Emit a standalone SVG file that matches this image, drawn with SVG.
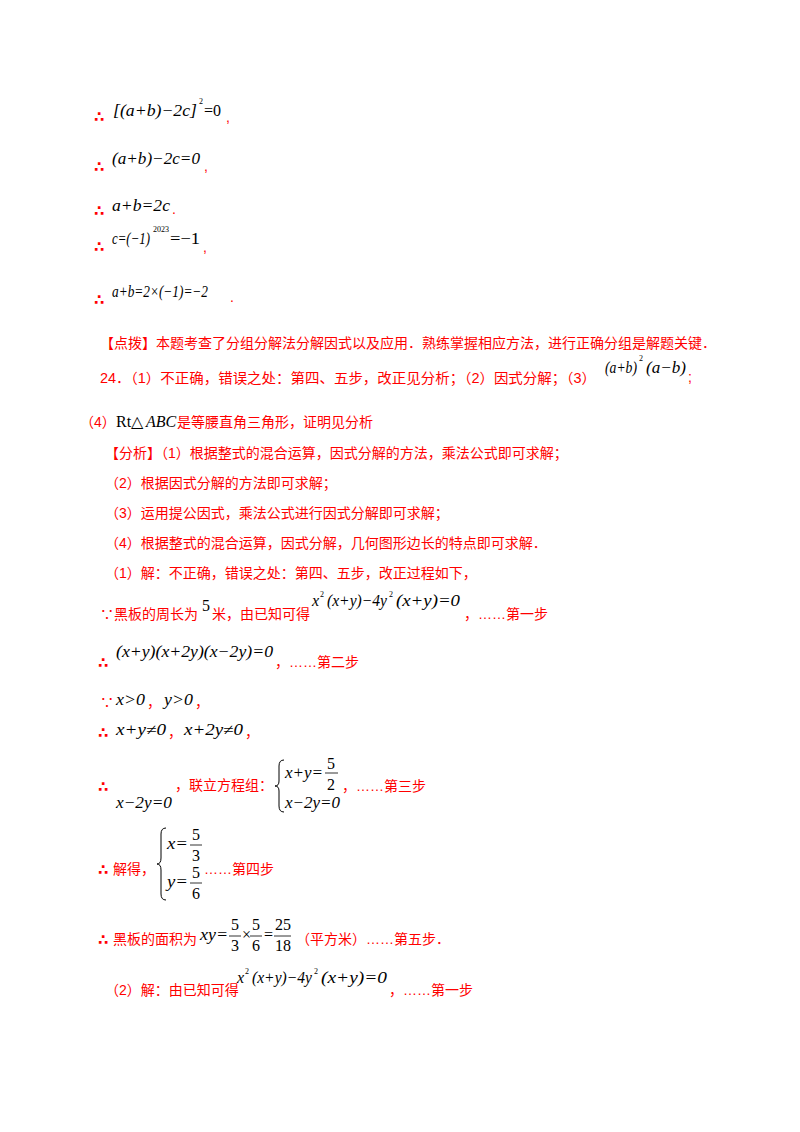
<svg xmlns="http://www.w3.org/2000/svg" width="800" height="1132" viewBox="0 0 800 1132">
<style>
.r{fill:#ff0000;font-family:"Liberation Sans","Noto Sans CJK SC",sans-serif;font-size:14px}
.t{fill:#ff0000;font-family:"DejaVu Sans",sans-serif;font-size:15px;font-weight:bold}
.m{fill:#000;font-family:"Liberation Serif",serif;font-size:16px;font-style:italic}
.n{fill:#000;font-family:"Liberation Serif",serif;font-size:16px}
.s{fill:#000;font-family:"Liberation Serif",serif;font-size:8px}
.fl{stroke:#000;stroke-width:0.8}
</style>
<rect width="800" height="1132" fill="#fff"/>
<g>
<text class="t" x="94" y="122">∴</text>
<text class="m" x="113" y="116" textLength="84" lengthAdjust="spacingAndGlyphs">[(a+b)−2c]</text><text class="s" x="199" y="104">2</text><text class="n" x="204" y="116">=0</text>
<text class="r" x="226" y="122">,</text>

<text class="t" x="94" y="172">∴</text>
<text class="m" x="112" y="164" textLength="88" lengthAdjust="spacingAndGlyphs">(a+b)−2c=0</text>
<text class="r" x="204" y="171">,</text>

<text class="t" x="94" y="216">∴</text>
<text class="m" x="112" y="211" textLength="58" lengthAdjust="spacingAndGlyphs">a+b=2c</text>
<text class="r" x="172" y="214">.</text>

<text class="t" x="94" y="252">∴</text>
<text class="m" x="112" y="244" textLength="38" lengthAdjust="spacingAndGlyphs">c=(−1)</text><text class="s" x="153" y="232">2023</text><text class="n" x="170" y="244" textLength="30" lengthAdjust="spacingAndGlyphs">=−1</text>
<text class="r" x="203" y="252">,</text>

<text class="t" x="94" y="305">∴</text>
<text class="m" x="112" y="297" textLength="96" lengthAdjust="spacingAndGlyphs">a+b=2×(−1)=−2</text>
<text class="r" x="230" y="302">.</text>

<text class="r" x="100" y="348">【点拨】本题考查了分组分解法分解因式以及应用．熟练掌握相应方法，进行正确分组是解题关键．</text>

<text class="r" x="100" y="383" textLength="496" lengthAdjust="spacingAndGlyphs">24．（1）不正确，错误之处：第四、五步，改正见分析；（2）因式分解；（3）</text>
<text class="m" x="605" y="373" textLength="32" lengthAdjust="spacingAndGlyphs">(a+b)</text><text class="s" x="639" y="361">2</text><text class="m" x="646" y="373" textLength="40" lengthAdjust="spacingAndGlyphs">(a−b)</text>
<text class="r" x="688" y="382">;</text>

<text class="r" x="80" y="427">（4）</text><text class="n" x="116" y="427">Rt△</text><text class="m" x="146" y="427">ABC</text><text class="r" x="177" y="427">是等腰直角三角形，证明见分析</text>

<text class="r" x="105" y="458">【分析】（1）根据整式的混合运算，因式分解的方法，乘法公式即可求解；</text>
<text class="r" x="105" y="488">（2）根据因式分解的方法即可求解；</text>
<text class="r" x="105" y="518">（3）运用提公因式，乘法公式进行因式分解即可求解；</text>
<text class="r" x="105" y="548">（4）根据整式的混合运算，因式分解，几何图形边长的特点即可求解．</text>
<text class="r" x="105" y="578">（1）解：不正确，错误之处：第四、五步，改正过程如下，</text>

<text class="r" x="100" y="619">∵黑板的周长为</text><text class="n" x="202" y="611">5</text><text class="r" x="212" y="619">米，由已知可得</text>
<text class="m" x="312" y="606">x</text><text class="s" x="320" y="597">2</text><text class="m" x="327" y="606" textLength="60" lengthAdjust="spacingAndGlyphs">(x+y)−4y</text><text class="s" x="389" y="597">2</text><text class="m" x="396" y="606" textLength="64" lengthAdjust="spacingAndGlyphs">(x+y)=0</text>
<text class="r" x="464" y="619">，……第一步</text>

<text class="t" x="98" y="668">∴</text>
<text class="m" x="116" y="657" textLength="157" lengthAdjust="spacingAndGlyphs">(x+y)(x+2y)(x−2y)=0</text>
<text class="r" x="275" y="667">，……第二步</text>

<text class="r" x="100" y="707">∵</text><text class="m" x="116" y="705" textLength="29" lengthAdjust="spacingAndGlyphs">x&gt;0</text><text class="r" x="147" y="707">，</text><text class="m" x="164" y="705" textLength="29" lengthAdjust="spacingAndGlyphs">y&gt;0</text><text class="r" x="195" y="707">，</text>
<text class="t" x="98" y="738">∴</text><text class="m" x="116" y="735" textLength="50" lengthAdjust="spacingAndGlyphs">x+y≠0</text><text class="r" x="168" y="737">，</text><text class="m" x="184" y="735" textLength="59" lengthAdjust="spacingAndGlyphs">x+2y≠0</text><text class="r" x="245" y="737">，</text>

<text class="t" x="98" y="792">∴</text>
<text class="m" x="116" y="808" textLength="56" lengthAdjust="spacingAndGlyphs">x−2y=0</text>
<text class="r" x="175" y="790">，联立方程组：</text>
<path d="M284 760 Q279 760 279 766 L279 781 Q279 786 275 786 Q279 786 279 791 L279 806 Q279 812 284 812" fill="none" stroke="#000" stroke-width="1"/>
<text class="m" x="285" y="778" textLength="38" lengthAdjust="spacingAndGlyphs">x+y=</text>
<text class="n" x="327" y="769">5</text><line class="fl" x1="325" y1="773" x2="338" y2="773"/><text class="n" x="327" y="790">2</text>
<text class="m" x="285" y="808" textLength="55" lengthAdjust="spacingAndGlyphs">x−2y=0</text>
<text class="r" x="342" y="791">，……第三步</text>

<text class="t" x="98" y="875">∴</text><text class="r" x="113" y="874">解得，</text>
<path d="M166 828 Q161 828 161 834 L161 858 Q161 864 157 864 Q161 864 161 870 L161 894 Q161 900 166 900" fill="none" stroke="#000" stroke-width="1"/>
<text class="m" x="167" y="849" textLength="21" lengthAdjust="spacingAndGlyphs">x=</text>
<text class="n" x="192" y="840">5</text><line class="fl" x1="190" y1="845" x2="202" y2="845"/><text class="n" x="192" y="861">3</text>
<text class="m" x="167" y="887" textLength="21" lengthAdjust="spacingAndGlyphs">y=</text>
<text class="n" x="192" y="878">5</text><line class="fl" x1="190" y1="883" x2="202" y2="883"/><text class="n" x="192" y="899">6</text>
<text class="r" x="204" y="874">……第四步</text>

<text class="t" x="98" y="945">∴</text><text class="r" x="113" y="944">黑板的面积为</text>
<text class="m" x="200" y="940" textLength="28" lengthAdjust="spacingAndGlyphs">xy=</text>
<text class="n" x="231" y="930">5</text><line class="fl" x1="229" y1="936" x2="241" y2="936"/><text class="n" x="231" y="951">3</text>
<text class="n" x="242" y="940">×</text>
<text class="n" x="252" y="930">5</text><line class="fl" x1="250" y1="936" x2="262" y2="936"/><text class="n" x="252" y="951">6</text>
<text class="n" x="264" y="940">=</text>
<text class="n" x="275" y="930">25</text><line class="fl" x1="274" y1="936" x2="291" y2="936"/><text class="n" x="275" y="951">18</text>
<text class="r" x="296" y="944">（平方米）……第五步．</text>

<text class="r" x="105" y="995">（2）解：由已知可得</text>
<text class="m" x="237" y="983">x</text><text class="s" x="245" y="974">2</text><text class="m" x="252" y="983" textLength="60" lengthAdjust="spacingAndGlyphs">(x+y)−4y</text><text class="s" x="314" y="974">2</text><text class="m" x="321" y="983" textLength="66" lengthAdjust="spacingAndGlyphs">(x+y)=0</text>
<text class="r" x="389" y="995">，……第一步</text>
</g>
</svg>
